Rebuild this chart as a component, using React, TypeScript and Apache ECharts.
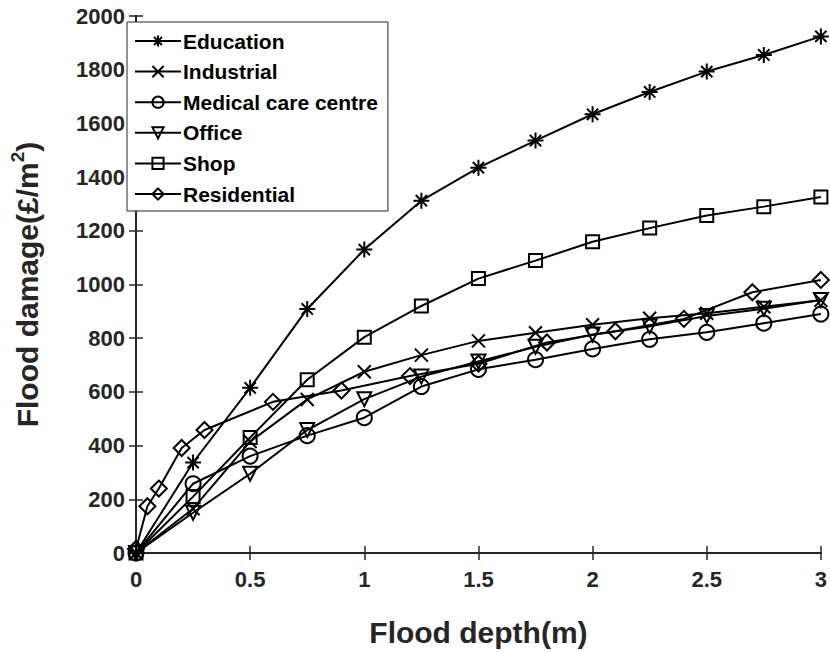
import React, { useEffect, useRef } from "react";
import * as echarts from "echarts";

const seriesNames = ["Education", "Industrial", "Medical care centre", "Office", "Shop", "Residential"];

const depthQuarter = [0, 0.25, 0.5, 0.75, 1, 1.25, 1.5, 1.75, 2, 2.25, 2.5, 2.75, 3];
const depthResidential = [0, 0.05, 0.1, 0.2, 0.3, 0.6, 0.9, 1.2, 1.5, 1.8, 2.1, 2.4, 2.7, 3];

const educationValues = [0, 337, 615, 909, 1130, 1312, 1435, 1536, 1634, 1717, 1793, 1855, 1924];
const industrialValues = [0, 165, 415, 572, 675, 737, 790, 820, 850, 874, 893, 917, 941];
const medicalValues = [0, 258, 361, 437, 504, 620, 684, 720, 760, 796, 822, 856, 890];
const officeValues = [0, 150, 295, 458, 573, 657, 713, 768, 814, 844, 883, 910, 942];
const shopValues = [0, 210, 430, 645, 804, 920, 1022, 1089, 1159, 1210, 1257, 1290, 1326];
const residentialValues = [15, 174, 240, 391, 458, 563, 605, 659, 705, 784, 826, 872, 971, 1017];

const xTicks = [0, 0.5, 1, 1.5, 2, 2.5, 3];
const yTicks = [0, 200, 400, 600, 800, 1000, 1200, 1400, 1600, 1800, 2000];

const ASTERISK = "path://M10,0L10,20M0,10L20,10M2.93,2.93L17.07,17.07M2.93,17.07L17.07,2.93";
const CROSS = "path://M0,0L20,20M0,20L20,0";

const symbols = [ASTERISK, CROSS, "circle", "triangle", "rect", "diamond"];
const symbolSizes = [16, 13, 15, 14, 13, 16];
const symbolRotates = [0, 0, 0, 180, 0, 0];

const FONT = "'Liberation Sans', Arial, Helvetica, sans-serif";
const AXIS_COLOR = "#262626";

export default function App() {
  const ref = useRef<HTMLDivElement>(null);

  useEffect(() => {
    if (!ref.current) return;
    const chart = echarts.init(ref.current, undefined, { renderer: "svg" });

    const valueSets = [educationValues, industrialValues, medicalValues, officeValues, shopValues, residentialValues];
    const series = seriesNames.map((name, i) => {
      const xs = i === 5 ? depthResidential : depthQuarter;
      return {
        name,
        type: "line",
        xAxisIndex: 0,
        yAxisIndex: 0,
        data: xs.map((x, k) => [x, valueSets[i][k]]),
        symbol: symbols[i],
        symbolSize: symbolSizes[i],
        symbolRotate: symbolRotates[i],
        symbolKeepAspect: true,
        showAllSymbol: true,
        lineStyle: { color: "#000", width: 2 },
        itemStyle: { color: "rgba(255,255,255,0)", borderColor: "#000", borderWidth: 2 },
        emphasis: { disabled: true },
        z: 2,
      };
    });

    const tickCommon = {
      axisLine: { show: true, lineStyle: { color: AXIS_COLOR, width: 2 } },
      axisTick: { show: true, inside: true, length: 7, lineStyle: { color: AXIS_COLOR, width: 1.5 } },
      splitLine: { show: false },
    };

    chart.setOption({
      animation: false,
      backgroundColor: "#fff",
      grid: { left: 119, top: 16, right: 5, bottom: 84, containLabel: false },
      legend: {
        orient: "vertical",
        left: 127,
        top: 22,
        data: seriesNames,
        itemWidth: 46,
        itemHeight: 14,
        itemGap: 8.6,
        padding: [8, 10, 6, 7],
        borderColor: AXIS_COLOR,
        borderWidth: 1,
        backgroundColor: "#fff",
        selectedMode: false,
        textStyle: { fontFamily: FONT, fontWeight: "bold", fontSize: 21, color: "#000", lineHeight: 22, padding: [0, 0, 0, -3] },
      },
      xAxis: [
        {
          type: "value",
          min: 0,
          max: 3,
          interval: 0.5,
          position: "bottom",
          ...tickCommon,
          axisLabel: {
            fontFamily: FONT,
            fontWeight: "bold",
            fontSize: 22,
            color: AXIS_COLOR,
            margin: 15,
            formatter: (v: number) => (xTicks.includes(v) ? String(v) : ""),
          },
          name: "Flood depth(m)",
          nameLocation: "middle",
          nameGap: 64,
          nameTextStyle: { fontFamily: FONT, fontWeight: "bold", fontSize: 30, color: AXIS_COLOR },
        },
        {
          type: "value",
          min: 0,
          max: 3,
          interval: 0.5,
          position: "top",
          ...tickCommon,
          axisLabel: { show: false },
        },
      ],
      yAxis: [
        {
          type: "value",
          min: 0,
          max: 2000,
          interval: 200,
          position: "left",
          ...tickCommon,
          axisLabel: {
            fontFamily: FONT,
            fontWeight: "bold",
            fontSize: 22,
            color: AXIS_COLOR,
            margin: 11,
            formatter: (v: number) => (yTicks.includes(v) ? String(v) : ""),
          },
          name: "{a|Flood damage(£/m}{s|2}{a|)}",
          nameLocation: "middle",
          nameGap: 90,
          nameRotate: 90,
          nameTextStyle: {
            fontFamily: FONT,
            fontWeight: "bold",
            fontSize: 30,
            color: AXIS_COLOR,
            rich: {
              a: { fontFamily: FONT, fontWeight: "bold", fontSize: 30, color: AXIS_COLOR, lineHeight: 38 },
              s: { fontFamily: FONT, fontWeight: "bold", fontSize: 19, color: AXIS_COLOR, verticalAlign: "top", lineHeight: 20 },
            },
          },
        },
        {
          type: "value",
          min: 0,
          max: 2000,
          interval: 200,
          position: "right",
          ...tickCommon,
          axisLabel: { show: false },
        },
      ],
      series,
    });

    return () => chart.dispose();
  }, []);

  return <div ref={ref} style={{ width: 830, height: 652, position: "absolute", left: 0, top: 0 }} />;
}
